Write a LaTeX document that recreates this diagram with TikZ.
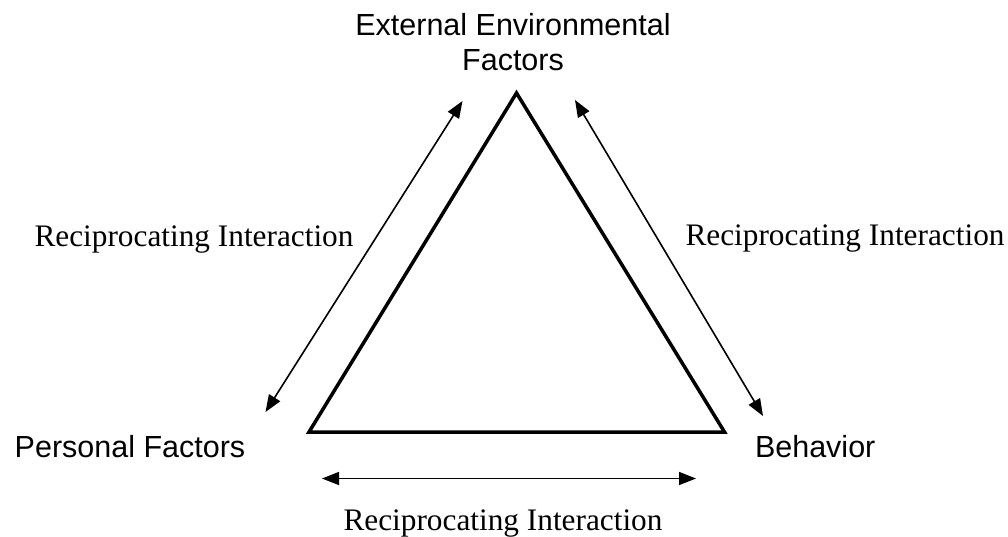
\documentclass[tikz,border=0pt]{standalone}
\usepackage{fontspec}
\setmainfont{Liberation Serif}
\setsansfont{Liberation Sans}
\usetikzlibrary{arrows.meta}

\begin{document}
\begin{tikzpicture}[x=1pt,y=-1pt]
	\tikzstyle{every node}=[inner sep=0pt, outer sep=0pt]
	\tikzstyle{factor}=[font=\sffamily\fontsize{30.5pt}{35pt}\selectfont, align=center]
	\tikzstyle{interaction}=[font=\fontsize{31.3pt}{36pt}\selectfont]
	\tikzstyle{recip}=[color={rgb,255:red,0; green,0; blue,0}, line width=1.6pt, {Triangle[length=17pt,width=13pt]}-{Triangle[length=17pt,width=13pt]}]
	\useasboundingbox (0,0) rectangle (1008,536);
	
	% triangle
	\coordinate (apex) at (516.5,93);
	\coordinate (left) at (309,432);
	\coordinate (right) at (724.5,432);
	\draw[color={rgb,255:red,0; green,0; blue,0}, line width=3.5pt, line join=miter] (apex) -- (right) -- (left) -- cycle;
	
	% factors
	\node[factor, anchor=north] (ext) at (513,13) {External Environmental\\Factors};
	\node[factor, anchor=base] (pers) at (130,457) {Personal Factors};
	\node[factor, anchor=base west] (beh) at (755,457) {Behavior};
	
	% arrow ends
	\coordinate (pl1) at (265.5,412);
	\coordinate (pl2) at (462.5,101);
	\coordinate (pr1) at (575,100);
	\coordinate (pr2) at (763,416);
	\coordinate (pb1) at (322,478.5);
	\coordinate (pb2) at (696,478.5);
	
	\draw[recip] (pl1) -- (pl2);
	\draw[recip] (pr1) -- (pr2);
	\draw[recip] (pb1) -- (pb2);
	
	% labels
	\node[interaction, anchor=base] (il) at (194,246) {Reciprocating Interaction};
	\node[interaction, anchor=base] (ir) at (845,245) {Reciprocating Interaction};
	\node[interaction, anchor=base] (ib) at (503,530) {Reciprocating Interaction};
	
\end{tikzpicture}
\end{document}
